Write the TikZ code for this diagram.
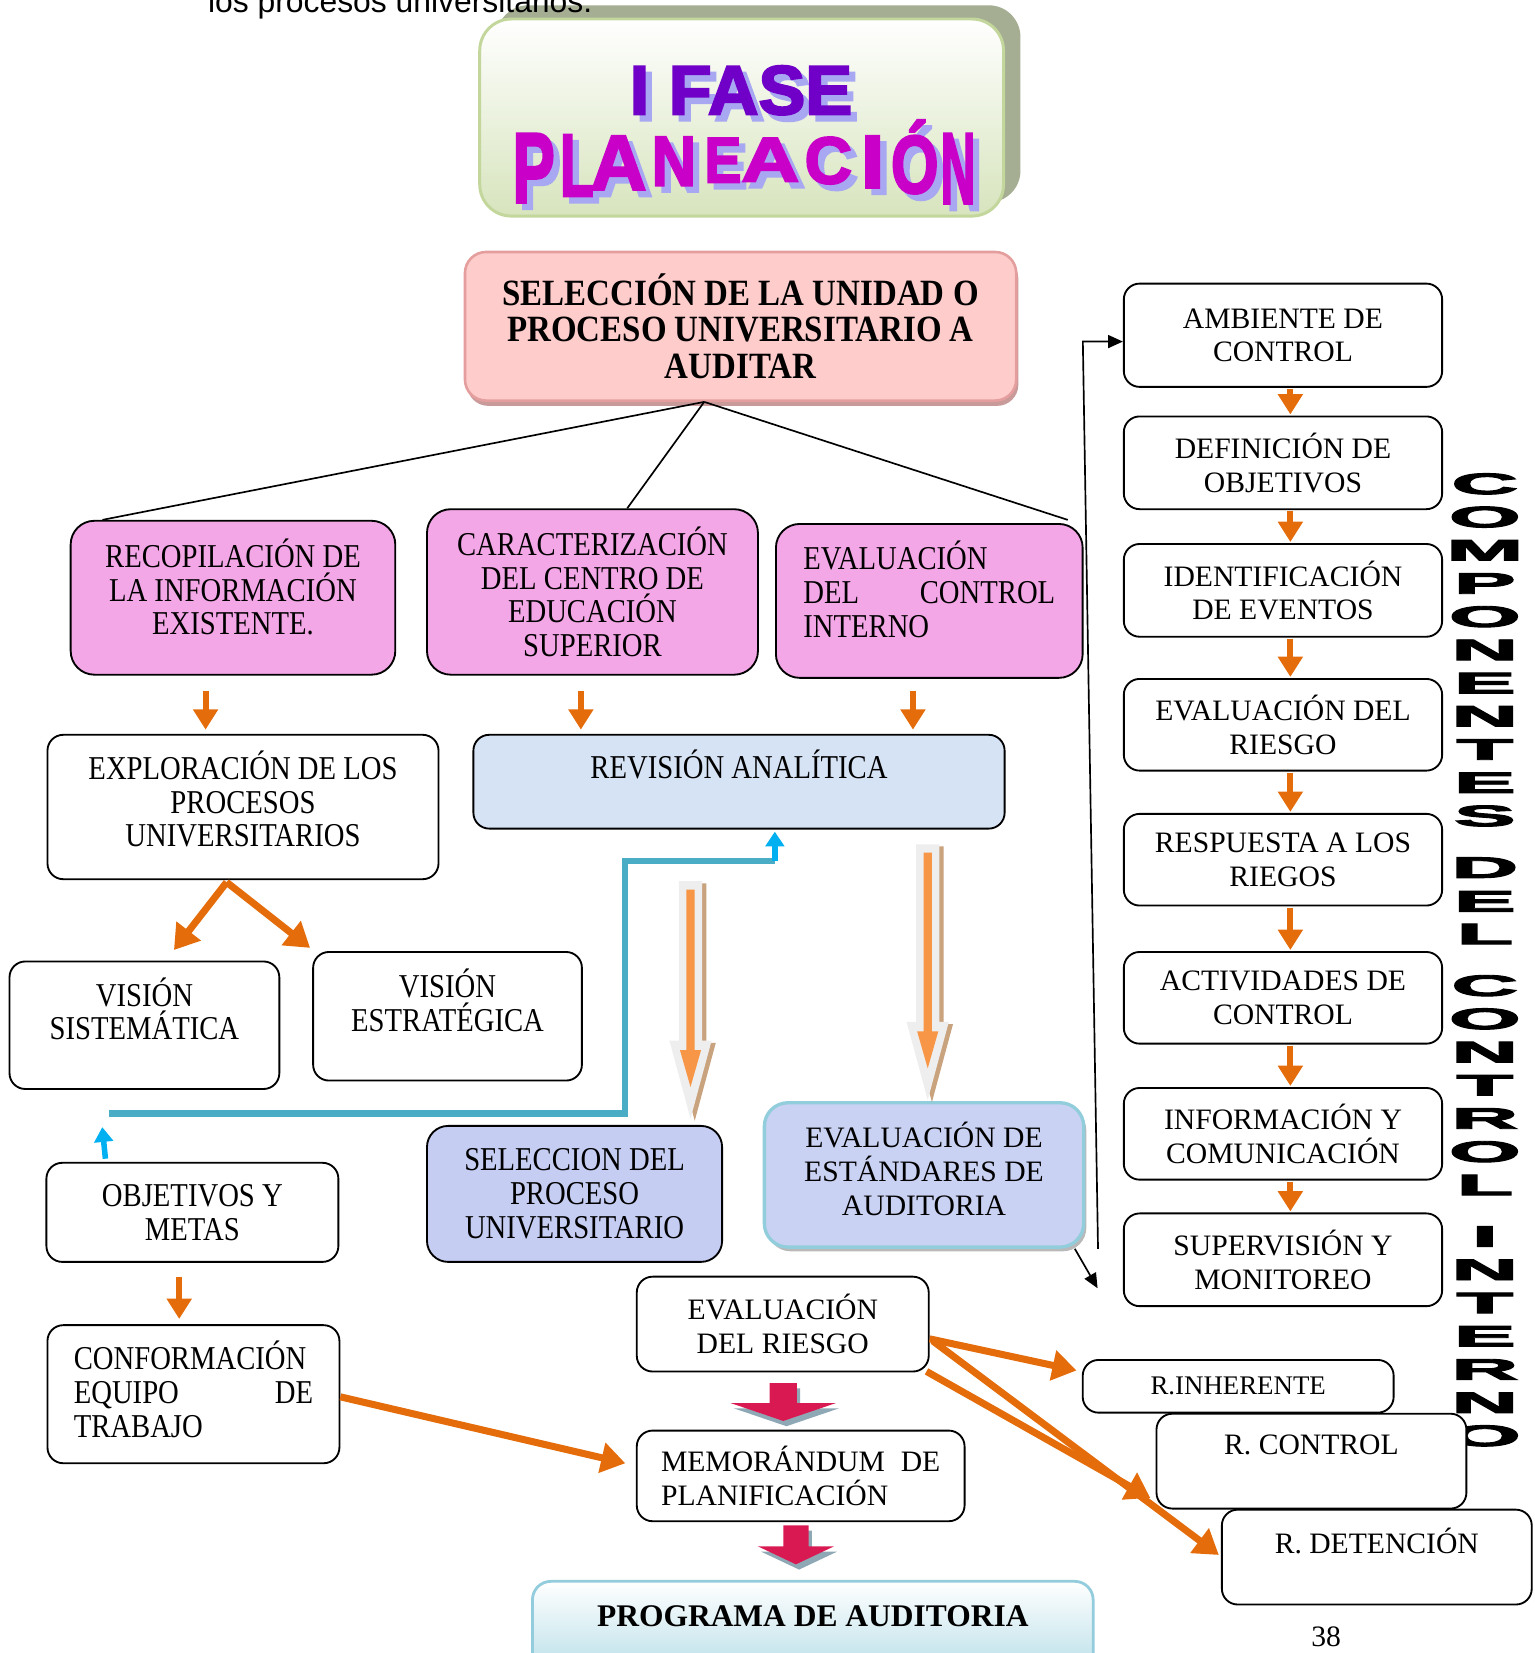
\documentclass[tikz,border=0pt]{standalone}
\usepackage{fontspec}
\usepackage{graphicx}
\setmainfont{Liberation Serif}
\newfontfamily\narrowserif[FakeStretch=0.86]{Liberation Serif}
\newfontfamily\boldnarrow[FakeStretch=0.89]{Liberation Serif}
\newfontfamily\pagesans{Liberation Sans}
\newfontfamily\heavysans[FakeBold=3]{Liberation Sans}
\newfontfamily\titlesans[FakeBold=3]{Liberation Sans}
\usetikzlibrary{arrows.meta,calc,shadows}

\definecolor{orangeline}{HTML}{E46C0A}
\definecolor{violetpink}{HTML}{F4A7E7}
\definecolor{selpink}{HTML}{FFCCCC}
\definecolor{selborder}{HTML}{E59E9E}
\definecolor{selshade}{HTML}{C99A9A}
\definecolor{revblue}{HTML}{D6E3F5}
\definecolor{procblue}{HTML}{C6CDF3}
\definecolor{estblue}{HTML}{CAD2F4}
\definecolor{estborder}{HTML}{92CDDC}
\definecolor{progblue}{HTML}{B7DEE8}
\definecolor{progborder}{HTML}{93CDDD}
\definecolor{blueline}{HTML}{4BACC6}
\definecolor{bluetip}{HTML}{00B0F0}
\definecolor{crimson}{HTML}{D91A52}
\definecolor{crimsonshade}{HTML}{8FA8B5}
\definecolor{shellgray}{HTML}{EEEEEE}
\definecolor{coreorange}{HTML}{F79646}
\definecolor{tanshade}{HTML}{C9A27E}
\definecolor{titleborder}{HTML}{C3D69B}
\definecolor{titlegreen}{HTML}{D7E4BD}
\definecolor{titleshade}{HTML}{A5AE92}
\definecolor{wordviolet}{HTML}{7000C8}
\definecolor{wordmagenta}{HTML}{C800C8}
\definecolor{wordshade}{HTML}{A8A8F2}

\tikzset{
  box/.style={draw=black, line width=1pt, rounded corners=0.3cm, fill=white,
    inner sep=0pt, align=center, font=\fontsize{16}{18.2}\selectfont},
  narrowbox/.style={box, font=\fontsize{18}{18.2}\narrowserif},
  pinkbox/.style={narrowbox, fill=violetpink, rounded corners=0.45cm},
  selbox/.style={box, fill=selpink, draw=selborder, line width=1.4pt,
    rounded corners=0.4cm, font=\fontsize{20}{19.6}\boldnarrow\bfseries,
    drop shadow={shadow xshift=0.04cm, shadow yshift=-0.1cm, fill=selshade, opacity=1}},
  estbox/.style={box, draw=estborder, line width=1.8pt, fill=estblue,
    rounded corners=0.45cm,
    drop shadow={shadow xshift=0.05cm, shadow yshift=-0.08cm, fill=gray!55, opacity=1}},
  progbox/.style={draw=progborder, line width=1.5pt, rounded corners=0.35cm,
    top color=white, bottom color=progblue},
  titlebox/.style={draw=titleborder, line width=1.6pt, rounded corners=0.6cm,
    top color=white, bottom color=titlegreen,
    drop shadow={shadow xshift=0.32cm, shadow yshift=0.26cm, fill=titleshade, opacity=1}},
  txt/.style={inner sep=0pt, align=center, font=\fontsize{16}{18.2}\selectfont},
  narrowtxt/.style={txt, font=\fontsize{18}{18.2}\narrowserif},
  wordletter/.style={anchor=north west, inner sep=0pt},
  stackletter/.style={inner sep=0pt, font=\fontsize{16}{16}\heavysans\bfseries},
  oarrow/.style={draw=orangeline, line width=3.3pt, -{Triangle[length=11pt,width=13pt]}},
  obig/.style={draw=orangeline, line width=3.8pt, -{Triangle[length=13pt,width=16pt]}},
  bline/.style={draw=blueline, line width=3.4pt},
  barrow/.style={draw=bluetip, line width=3pt, -{Triangle[length=8pt,width=10pt]}},
  thin/.style={draw=black, line width=0.9pt},
  thinarrow/.style={thin, -{Triangle[length=8pt,width=7pt]}}
}

% word art letter with its shadow: colour, width, height, text
\newcommand\wordart[4]{%
  \makebox[0pt][l]{\hspace*{0.12cm}\raisebox{-0.12cm}[0pt][0pt]{%
    \textcolor{wordshade}{\resizebox{#2}{#3}{\titlesans\bfseries #4}}}}%
  \textcolor{#1}{\resizebox{#2}{#3}{\titlesans\bfseries #4}}}
% red block arrow: top, shaft half width, head half width, shaft length, head length
\newcommand\blockdown[5]{%
  \fill[crimsonshade] ($(#1)+(-#2+3,5)$) -- ($(#1)+(#2+3,5)$) -- ($(#1)+(#2+3,#4+5)$)
    -- ($(#1)+(#3+3,#4+5)$) -- ($(#1)+(3,#4+#5+5)$) -- ($(#1)+(-#3+3,#4+5)$)
    -- ($(#1)+(-#2+3,#4+5)$) -- cycle;
  \fill[crimson] ($(#1)+(-#2,0)$) -- ($(#1)+(#2,0)$) -- ($(#1)+(#2,#4)$)
    -- ($(#1)+(#3,#4)$) -- ($(#1)+(0,#4+#5)$) -- ($(#1)+(-#3,#4)$)
    -- ($(#1)+(-#2,#4)$) -- cycle;
}
% hollow down arrow: top, tip
\newcommand\hollowdown[2]{%
  \fill[tanshade] ($(#1)+(-7,2)$) -- ($(#1)+(15,2)$) -- ($(#2)+(15,-72)$)
    -- ($(#2)+(24,-72)$) -- ($(#2)+(4,2)$) -- ($(#2)+(-16,-72)$)
    -- ($(#2)+(-7,-72)$) -- cycle;
  \fill[shellgray] ($(#1)+(-11,0)$) -- ($(#1)+(11,0)$) -- ($(#2)+(11,-74)$)
    -- ($(#2)+(20,-74)$) -- (#2) -- ($(#2)+(-20,-74)$)
    -- ($(#2)+(-11,-74)$) -- cycle;
  \fill[coreorange] ($(#1)+(-4,8)$) -- ($(#1)+(4,8)$) -- ($(#2)+(4,-65)$)
    -- ($(#2)+(10,-65)$) -- ($(#2)+(0,-30)$) -- ($(#2)+(-10,-65)$)
    -- ($(#2)+(-4,-65)$) -- cycle;
}

\begin{document}
\begin{tikzpicture}[x=0.02cm, y=-0.02cm]
\useasboundingbox (0,0) rectangle (1456,1568);

% title
\node[titlebox, minimum width=9.94cm, minimum height=3.74cm] (title) at (703.5,111.5) {};
\node[wordletter] (fase) at (597,62) {\wordart{wordviolet}{4.22cm}{0.92cm}{I FASE}};
\node[anchor=base west, inner sep=0pt] (planeacion) at (485,200) {%
  \foreach \ch/\lx/\lw/\lt/\lb in {P/485/40/127/192, L/530/32/128/186,
      A/559/53/129/180, N/617/42/130/176, E/667/35/131/173, A/702/55/131/172,
      C/762/45/130/174, I/815/23/129/178, Ó/844/45/114/183, N/891/33/127/193}{%
    \pgfmathsetmacro\lwcm{\lw*0.02}%
    \pgfmathsetmacro\lhcm{(\lb-\lt)*0.02}%
    \pgfmathsetmacro\dx{(\lx-485)*0.02}%
    \pgfmathsetmacro\dy{(200-\lb)*0.02}%
    \rlap{\hspace*{\dx cm}\raisebox{\dy cm}{\wordart{wordmagenta}{\lwcm cm}{\lhcm cm}{\ch}}}%
  }%
};
\node[anchor=base west, inner sep=0pt, font=\fontsize{17.2}{20}\pagesans] (topline) at (197,12)
{los procesos universitarios.};

% vertical heading
\foreach \ch/\cy [count=\i] in {C/459, O/490.5, M/522, P/553.5, O/585, N/616.5, E/648,
    N/679.5, T/711, E/742.5, S/774, D/823, E/855, L/886, C/935, O/966.5, N/998,
    T/1029.5, R/1061, O/1092.5, L/1124, I/1173, N/1204.5, T/1236, E/1267.5, R/1299,
    N/1330.5, O/1362}
  \node[stackletter] (stack\i) at (1408.5,\cy) {\scalebox{3.1}[1]{\ch}};

% main boxes
\node[selbox, minimum width=10.46cm, minimum height=2.82cm] (sel) at (702.5,309.5)
{SELECCIÓN DE LA UNIDAD O\\PROCESO UNIVERSITARIO A\\AUDITAR};

\node[pinkbox, minimum width=6.16cm, minimum height=2.92cm] (recop) at (221,567) {};
\node[narrowtxt] (recoptxt) at (221,557) {RECOPILACIÓN DE\\LA INFORMACIÓN\\EXISTENTE.};
\node[pinkbox, minimum width=6.28cm, minimum height=3.14cm] (carac) at (562,561.5)
{CARACTERIZACIÓN\\DEL CENTRO DE\\EDUCACIÓN\\SUPERIOR};
\node[pinkbox, minimum width=5.82cm, minimum height=2.92cm] (evalci) at (881.5,570) {};
\node[narrowtxt, text width=4.78cm, align=left] (evalcitxt) at (881.5,559)
{EVALUACIÓN\\DEL\hfill CONTROL\\INTERNO};

\node[narrowbox, minimum width=7.42cm, minimum height=2.74cm] (explor) at (230.5,765.5) {};
\node[narrowtxt] (explortxt) at (230.5,758) {EXPLORACIÓN DE LOS\\PROCESOS\\UNIVERSITARIOS};
\node[narrowbox, fill=revblue, minimum width=10.08cm, minimum height=1.78cm] (revis) at (701,741.5) {};
\node[narrowtxt] (revistxt) at ($(revis.north)+(0,29)$) {REVISIÓN ANALÍTICA};

\node[narrowbox, minimum width=5.12cm, minimum height=2.42cm] (vsist) at (137,972.5) {};
\node[narrowtxt] (vsisttxt) at (137,957) {VISIÓN\\SISTEMÁTICA};
\node[narrowbox, minimum width=5.10cm, minimum height=2.44cm] (vestr) at (424.5,964) {};
\node[narrowtxt] (vestrtxt) at (424.5,949) {VISIÓN\\ESTRATÉGICA};

\node[narrowbox, minimum width=5.54cm, minimum height=1.88cm] (objet) at (182.5,1150)
{OBJETIVOS Y\\METAS};
\node[narrowbox, minimum width=5.54cm, minimum height=2.62cm] (conf) at (183.5,1322.5) {};
\node[narrowtxt, text width=4.54cm, align=left] (conftxt) at (183.5,1318)
{CONFORMACIÓN\\EQUIPO\hfill DE\\TRABAJO};
\node[narrowbox, fill=procblue, rounded corners=0.4cm, minimum width=5.60cm, minimum height=2.58cm] (selproc) at (545,1132.5)
{SELECCION DEL\\PROCESO\\UNIVERSITARIO};
\node[estbox, minimum width=6.06cm, minimum height=2.74cm] (estand) at (876.5,1114.5) {};
\node[txt] (estandtxt) at (876.5,1109) {EVALUACIÓN DE\\ESTÁNDARES DE\\AUDITORIA};

\node[box, minimum width=5.54cm, minimum height=1.80cm] (evriesgo) at (742.5,1256)
{EVALUACIÓN\\DEL RIESGO};
\node[box, text width=5.3cm, align=left, minimum width=6.22cm, minimum height=1.72cm] (memo) at (759.5,1400)
{MEMORÁNDUM\hfill DE\\PLANIFICACIÓN};
\node[progbox, minimum width=10.64cm, minimum height=1.80cm] (progr) at (771,1545) {};
\node[txt, font=\fontsize{17}{19}\selectfont\bfseries] (progrtxt) at (771,1533) {PROGRAMA DE AUDITORIA};

% components column
\node[box, minimum width=6.04cm, minimum height=1.96cm] (amb) at (1217,318) {AMBIENTE DE\\CONTROL};
\node[box, minimum width=6.04cm, minimum height=1.76cm] (defobj) at (1217,439) {DEFINICIÓN DE\\OBJETIVOS};
\node[box, minimum width=6.04cm, minimum height=1.76cm] (ident) at (1217,560) {IDENTIFICACIÓN\\DE EVENTOS};
\node[box, minimum width=6.04cm, minimum height=1.74cm] (evalr) at (1217,687.5) {EVALUACIÓN DEL\\RIESGO};
\node[box, minimum width=6.04cm, minimum height=1.74cm] (resp) at (1217,815.5) {RESPUESTA A LOS\\RIEGOS};
\node[box, minimum width=6.04cm, minimum height=1.74cm] (activ) at (1217,946.5) {ACTIVIDADES DE\\CONTROL};
\node[box, minimum width=6.04cm, minimum height=1.74cm] (inform) at (1217,1075.5) {INFORMACIÓN Y\\COMUNICACIÓN};
\node[box, minimum width=6.04cm, minimum height=1.76cm] (superv) at (1217,1195) {SUPERVISIÓN Y\\MONITOREO};

% risks
\node[box, font=\fontsize{14.5}{16}\selectfont, minimum width=5.90cm, minimum height=1.0cm] (rinh) at (1174.5,1315) {R.INHERENTE};
\node[box, minimum width=5.88cm, minimum height=1.80cm] (rcont) at (1244,1386) {};
\node[txt] (rconttxt) at (1244,1371) {R. CONTROL};
\node[box, minimum width=5.88cm, minimum height=1.80cm] (rdet) at (1306,1477) {};
\node[txt] (rdettxt) at (1306,1462) {R. DETENCIÓN};

\node[txt] (pagenum) at (1258,1553) {38};

% lines from the selection box
\coordinate (selfoot) at ($(sel.south)+(-34.5,0)$);
\draw[thin] (selfoot) -- ($(recop.north west)+(31,0)$);
\draw[thin] (selfoot) -- ($(carac.north)+(33,0)$);
\draw[thin] (selfoot) -- ($(evalci.north east)+(-15,-3)$);

% short orange arrows
\draw[oarrow] ($(recop.south)+(-26,15)$) -- ($(explor.north)+(-35.5,-4)$);
\draw[oarrow] ($(carac.south)+(-11,15)$) -- ($(revis.north)+(-150,-4)$);
\draw[oarrow] ($(evalci.south)+(-15.5,12)$) -- ($(revis.north)+(165,-4)$);
\draw[obig] ($(explor.south)+(-15.5,2)$) -- ($(vsist.north)+(28,-10)$);
\draw[obig] ($(explor.south)+(-15.5,2)$) -- ($(vestr.north west)+(-2,-3)$);
\draw[oarrow] ($(objet.south)+(-12.5,13)$) -- ($(conf.north)+(-13.5,-5)$);
\draw[obig] ($(conf.east)+(0,2.5)$) -- ($(memo.west)+(-10,-12)$);
\draw[obig] ($(evriesgo.east)+(0,14)$) -- ($(rinh.west)+(-5,-15)$);
\draw[obig] ($(evriesgo.east)+(3,16)$) -- ($(rdet.west)+(-2,-2)$);
\draw[obig] ($(evriesgo.south east)+(-3,-1)$) -- ($(rcont.south west)+(-5,-11)$);
\foreach \a/\b in {amb/defobj, defobj/ident, ident/evalr, evalr/resp, resp/activ,
    activ/inform, inform/superv}
  \draw[oarrow] ($(\a.south)+(7,1)$) -- ($(\b.north)+(7,-1)$);

% blue feedback line
\coordinate (bstart) at ($(objet.north)+(-79.5,-46)$);
\coordinate (bmid) at ($(revis.south)+(-108,30)$);
\coordinate (bturn) at ($(revis.south)+(34,30)$);
\draw[bline] (bstart) -| (bmid) -- (bturn);
\draw[barrow] (bturn) -- ($(revis.south)+(34,2)$);
\draw[barrow] ($(objet.north)+(-82.5,-3)$) -- ($(objet.north)+(-85.5,-33)$);

% big hollow arrows
\coordinate (atop) at ($(revis.south)+(-46,49)$);
\coordinate (atip) at ($(selproc.north)+(110,-6)$);
\coordinate (btop) at ($(revis.south)+(179,14)$);
\coordinate (btip) at ($(estand.north)+(3.5,-1)$);
\hollowdown{atop}{atip}
\hollowdown{btop}{btip}

% red block arrows
\coordinate (riskdrop) at ($(evriesgo.south)+(0.5,10)$);
\coordinate (memodrop) at ($(memo.south)+(-4.5,3)$);
\blockdown{riskdrop}{13}{50}{19}{17}
\blockdown{memodrop}{12}{36}{20}{17}

% black link to the components
\coordinate (linkfoot) at ($(estand.south east)+(12,0)$);
\coordinate (linkcorner) at ($(amb.west)+(-38,6)$);
\draw[thinarrow] (linkfoot) -- (linkcorner) -- ($(amb.west)+(0,6)$);
\draw[thinarrow] ($(estand.south east)+(-10,0)$) -- ($(superv.west)+(-24,27)$);

\end{tikzpicture}
\end{document}
